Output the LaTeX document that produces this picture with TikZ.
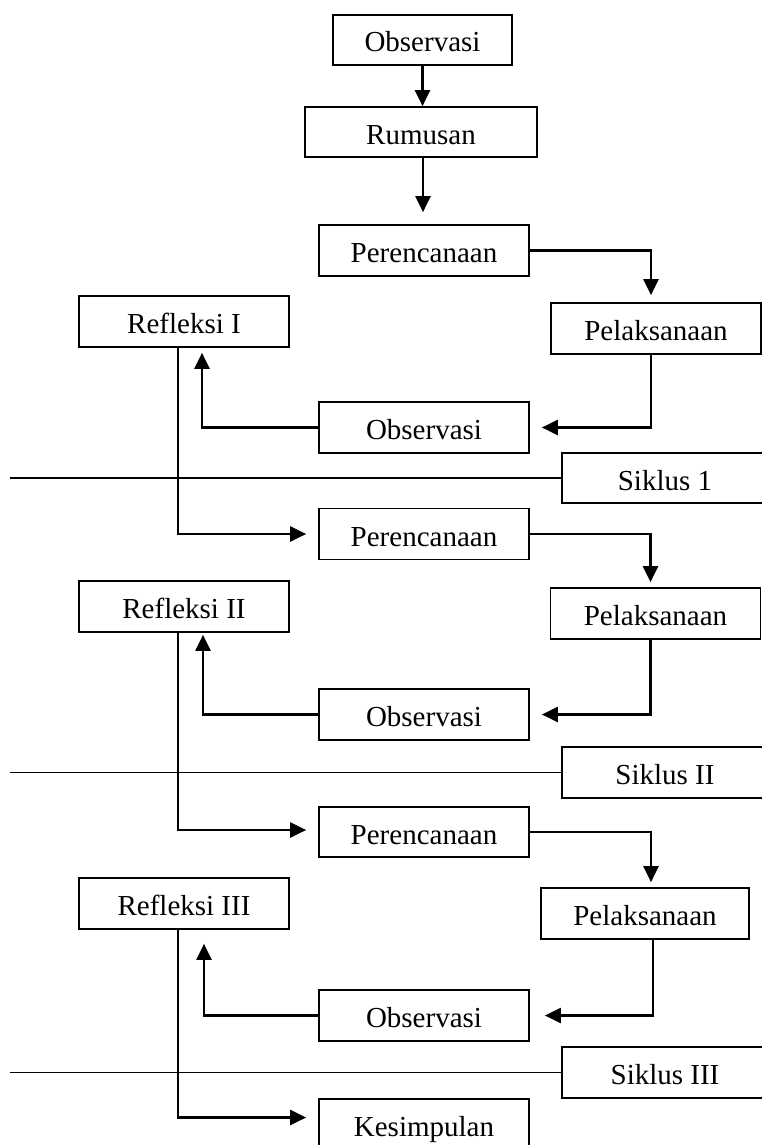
\documentclass[tikz,border=0pt]{standalone}
\usepackage{fontspec}
\setmainfont{Liberation Serif}
\usetikzlibrary{arrows.meta, positioning, calc}

\begin{document}
\begin{tikzpicture}[
        x=1pt, y=-1pt,
        font=\fontsize{29pt}{34pt}\selectfont,
        >={Triangle[length=16pt,width=15pt]},
        box/.style={
            draw=black,
            line width=1.7pt,
            rectangle,
            fill=white,
            minimum width=210pt,
            minimum height=51pt,
            inner sep=0pt,
            text height=28pt,
            text depth=4pt,
            align=center
        },
        line/.style={draw, line width=1.4pt, -},
        line_arrow/.style={draw, line width=2.2pt, ->}
    ]
    \useasboundingbox (0,0) rectangle (762,1145);

    % Opening
    \node[box, minimum width=179pt, minimum height=50pt] (obs_top) at (422.5,40) {Observasi};
    \node[box, minimum width=232pt, minimum height=50pt] (rumusan) at (421,132) {Rumusan};

    % Cycle 1
    \node[box] (plan1) at (424,250.5) {Perencanaan};
    \node[box] (refl1) at (184,321.5) {Refleksi I};
    \node[box] (exec1) at (656,328.5) {Pelaksanaan};
    \node[box] (obs1) at (424,427.5) {Observasi};
    \node[box, minimum width=206pt, minimum height=50pt] (cycle1) at (665,478) {Siklus 1};
    \coordinate (cut1) at (10,478);

    % Cycle 2
    \node[box] (plan2) at (424,534) {Perencanaan};
    \node[box] (refl2) at (184,606.5) {Refleksi II};
    \node[box] (exec2) at (655.5,613.5) {Pelaksanaan};
    \node[box] (obs2) at (424,714.5) {Observasi};
    \node[box, minimum width=206pt] (cycle2) at (665,772.5) {Siklus II};
    \coordinate (cut2) at (10,772.5);

    % Cycle 3
    \node[box, minimum height=50pt] (plan3) at (424,832) {Perencanaan};
    \node[box] (refl3) at (184,903.5) {Refleksi III};
    \node[box, minimum width=208pt] (exec3) at (645,913.5) {Pelaksanaan};
    \node[box] (obs3) at (424,1015.5) {Observasi};
    \node[box, minimum width=206pt] (cycle3) at (665,1072.5) {Siklus III};
    \coordinate (cut3) at (10,1072.5);

    % Closing
    \node[box] (kesimpulan) at (424,1124.5) {Kesimpulan};

    % Connectors
    \draw[line_arrow] (obs_top.south) -- (obs_top.south |- rumusan.north);
    \draw[line_arrow, shorten >=12pt] ([xshift=2pt]rumusan.south) -- ([xshift=2pt]rumusan.south |- plan1.north);

    \draw[line_arrow, shorten >=7pt] (plan1.east) -| ([xshift=-5pt]exec1.north);
    \draw[line_arrow, shorten >=12pt] ([xshift=-5pt]exec1.south) |- (obs1.east);
    \draw[line_arrow, shorten >=5pt] (obs1.west) -| ([xshift=18pt]refl1.south);
    \draw[line] (cut1) -- (cycle1.west);
    \draw[line_arrow, shorten >=12pt] ([xshift=-6pt]refl1.south) |- (plan2.west);

    \draw[line_arrow, shorten >=5pt] (plan2.east) -| ([xshift=-5pt]exec2.north);
    \draw[line_arrow, shorten >=12pt] ([xshift=-5pt]exec2.south) |- (obs2.east);
    \draw[line_arrow, shorten >=2pt] (obs2.west) -| ([xshift=19pt]refl2.south);
    \draw[line] (cut2) -- (cycle2.west);
    \draw[line_arrow, shorten >=12pt] ([xshift=-6pt]refl2.south) |- ([yshift=2pt]plan3.west);

    \draw[line_arrow, shorten >=5pt] (plan3.east) -| ([xshift=6pt]exec3.north);
    \draw[line_arrow, shorten >=15pt] ([xshift=8pt]exec3.south) |- (obs3.east);
    \draw[line_arrow, shorten >=14pt] (obs3.west) -| ([xshift=20pt]refl3.south);
    \draw[line] (cut3) -- (cycle3.west);

    \draw[line_arrow, shorten >=12pt] ([xshift=-6pt]refl3.south) |- ([yshift=7pt]kesimpulan.west);

\end{tikzpicture}
\end{document}
